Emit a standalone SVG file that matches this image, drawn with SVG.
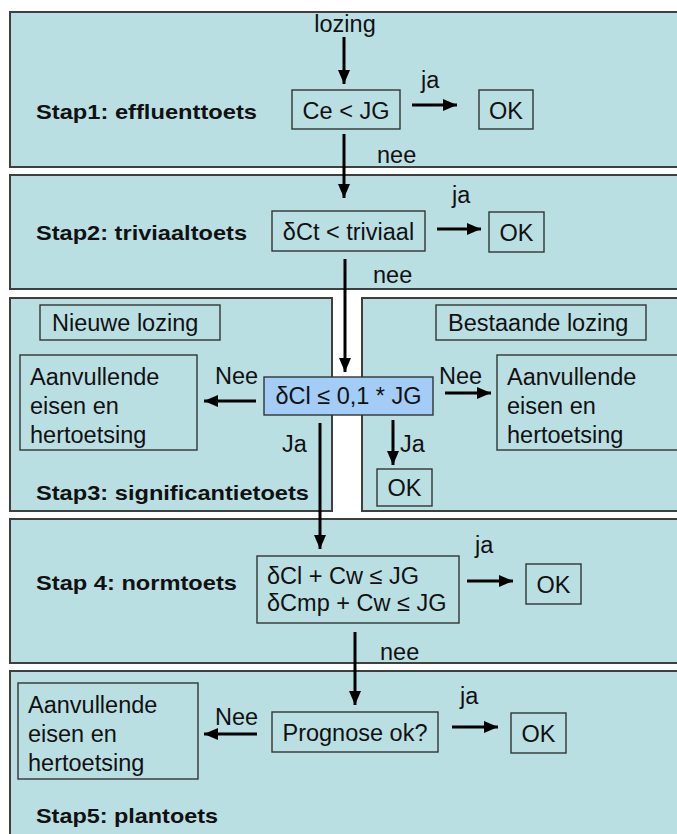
<svg xmlns="http://www.w3.org/2000/svg" width="677" height="834" viewBox="0 0 677 834">
  <defs>
    <marker id="ah" markerUnits="userSpaceOnUse" markerWidth="14" markerHeight="12" refX="14" refY="6" orient="auto">
      <path d="M0,0 L14,6 L0,12 Z" fill="#000"/>
    </marker>
    <style>
      .panel { fill: #badfe3; stroke: #3f3f3f; stroke-width: 2; }
      .box { fill: #badfe3; stroke: #333; stroke-width: 1.4; }
      .blue { fill: #a3cdf6; stroke: #333; stroke-width: 1.4; }
      .t { font-family: "Liberation Sans", Arial, sans-serif; font-size: 23.5px; fill: #111; }
      .b { font-family: "Liberation Sans", Arial, sans-serif; font-size: 20.5px; font-weight: bold; fill: #111; }
      .arr { stroke: #000; stroke-width: 3; fill: none; marker-end: url(#ah); }
    </style>
  </defs>
  <rect width="677" height="834" fill="#fff"/>

  <!-- Panels -->
  <g id="panel1">
    <rect class="panel" x="10" y="12" width="680" height="155"/>
    <text class="b" x="36" y="119" textLength="221" lengthAdjust="spacingAndGlyphs">Stap1: effluenttoets</text>
    <text class="t" x="345" y="32" text-anchor="middle">lozing</text>
  </g>
  <g id="panel2">
    <rect class="panel" x="10" y="175" width="680" height="114"/>
    <text class="b" x="36" y="240" textLength="211" lengthAdjust="spacingAndGlyphs">Stap2: triviaaltoets</text>
  </g>
  <g id="panel3-left">
    <rect class="panel" x="10" y="298" width="322" height="213"/>
    <text class="b" x="36" y="500" textLength="273" lengthAdjust="spacingAndGlyphs">Stap3: significantietoets</text>
  </g>
  <g id="panel3-right">
    <rect class="panel" x="362" y="298" width="330" height="213"/>
  </g>
  <g id="panel4">
    <rect class="panel" x="10" y="519" width="680" height="144"/>
    <text class="b" x="36" y="590" textLength="201" lengthAdjust="spacingAndGlyphs">Stap 4: normtoets</text>
  </g>
  <g id="panel5">
    <rect class="panel" x="10" y="671" width="680" height="175"/>
    <text class="b" x="36" y="823" textLength="182" lengthAdjust="spacingAndGlyphs">Stap5: plantoets</text>
  </g>

  <!-- Nodes -->
  <g id="n-ce-jg">
    <rect class="box" x="292" y="90" width="108" height="39"/>
    <text class="t" x="346" y="119" text-anchor="middle">Ce &lt; JG</text>
  </g>
  <g id="n-ok1">
    <rect class="box" x="479" y="90" width="54" height="39"/>
    <text class="t" x="506" y="119" text-anchor="middle">OK</text>
  </g>
  <g id="n-dct">
    <rect class="box" x="272" y="211" width="153" height="40"/>
    <text class="t" x="348.5" y="240" text-anchor="middle">δCt &lt; triviaal</text>
  </g>
  <g id="n-ok2">
    <rect class="box" x="489" y="212" width="55" height="40"/>
    <text class="t" x="516.5" y="241" text-anchor="middle">OK</text>
  </g>
  <g id="n-nieuwe">
    <rect class="box" x="40" y="305" width="180" height="35"/>
    <text class="t" x="52" y="331">Nieuwe lozing</text>
  </g>
  <g id="n-bestaande">
    <rect class="box" x="436" y="305" width="210" height="35"/>
    <text class="t" x="448" y="331">Bestaande lozing</text>
  </g>
  <g id="n-aanv-left">
    <rect class="box" x="20" y="355" width="177" height="95"/>
    <text class="t" x="30" y="385">Aanvullende</text>
    <text class="t" x="30" y="414">eisen en</text>
    <text class="t" x="30" y="443">hertoetsing</text>
  </g>
  <g id="n-dcl">
    <rect class="blue" x="264" y="377" width="169" height="38"/>
    <text class="t" x="348.5" y="404" text-anchor="middle">δCl ≤ 0,1 * JG</text>
  </g>
  <g id="n-aanv-right">
    <rect class="box" x="497" y="355" width="185" height="95"/>
    <text class="t" x="507" y="385">Aanvullende</text>
    <text class="t" x="507" y="414">eisen en</text>
    <text class="t" x="507" y="443">hertoetsing</text>
  </g>
  <g id="n-ok3">
    <rect class="box" x="377" y="469" width="55" height="37"/>
    <text class="t" x="404.5" y="496" text-anchor="middle">OK</text>
  </g>
  <g id="n-norm">
    <rect class="box" x="257" y="556" width="202" height="67"/>
    <text class="t" x="267" y="584">δCl + Cw ≤ JG</text>
    <text class="t" x="267" y="611">δCmp + Cw ≤ JG</text>
  </g>
  <g id="n-ok4">
    <rect class="box" x="526" y="564" width="55" height="40"/>
    <text class="t" x="553.5" y="593" text-anchor="middle">OK</text>
  </g>
  <g id="n-aanv-5">
    <rect class="box" x="18" y="683" width="180" height="96"/>
    <text class="t" x="28" y="713">Aanvullende</text>
    <text class="t" x="28" y="742">eisen en</text>
    <text class="t" x="28" y="771">hertoetsing</text>
  </g>
  <g id="n-prognose">
    <rect class="box" x="272" y="712" width="166" height="40"/>
    <text class="t" x="355" y="741" text-anchor="middle">Prognose ok?</text>
  </g>
  <g id="n-ok5">
    <rect class="box" x="511" y="713" width="55" height="40"/>
    <text class="t" x="538.5" y="742" text-anchor="middle">OK</text>
  </g>

  <!-- Connectors -->
  <g id="connectors">
    <line class="arr" x1="344" y1="37" x2="344" y2="84"/>
    <line class="arr" x1="412" y1="105" x2="457" y2="105"/>
    <text class="t" x="421" y="88">ja</text>
    <line class="arr" x1="344" y1="134" x2="344" y2="198"/>
    <text class="t" x="377" y="163">nee</text>

    <line class="arr" x1="437" y1="229" x2="481" y2="229"/>
    <text class="t" x="452" y="203">ja</text>
    <line class="arr" x1="345" y1="259" x2="345" y2="372"/>
    <text class="t" x="373" y="283">nee</text>

    <line class="arr" x1="256" y1="401" x2="204" y2="401"/>
    <text class="t" x="215" y="384">Nee</text>
    <line class="arr" x1="445" y1="393" x2="491" y2="393"/>
    <text class="t" x="439" y="384">Nee</text>
    <line class="arr" x1="393" y1="420" x2="393" y2="465"/>
    <text class="t" x="400" y="452">Ja</text>
    <line class="arr" x1="320" y1="423" x2="320" y2="549"/>
    <text class="t" x="282" y="452">Ja</text>

    <line class="arr" x1="467" y1="581" x2="513" y2="581"/>
    <text class="t" x="475" y="553">ja</text>
    <line class="arr" x1="355" y1="632" x2="355" y2="705"/>
    <text class="t" x="380" y="660">nee</text>

    <line class="arr" x1="257" y1="734" x2="204" y2="734"/>
    <text class="t" x="215" y="725">Nee</text>
    <line class="arr" x1="452" y1="727" x2="498" y2="727"/>
    <text class="t" x="460" y="704">ja</text>
  </g>
</svg>
